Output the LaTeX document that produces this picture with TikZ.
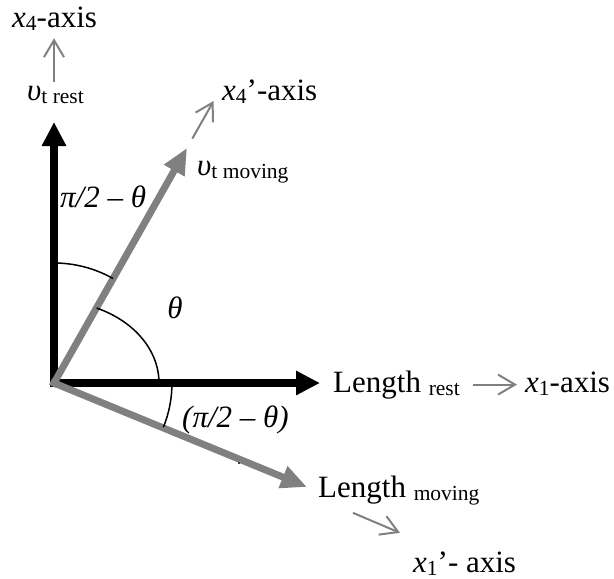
\documentclass[tikz,border=0pt]{standalone}
\usepackage{fontspec}
\setmainfont{Liberation Serif}
\usetikzlibrary{arrows.meta,calc}
\definecolor{axisgray}{RGB}{128,128,128}
\newcommand{\lowtext}[1]{\raisebox{-3pt}{\fontsize{21.5}{24}\selectfont #1}}
\tikzset{
 axislabel/.style={font=\fontsize{31}{36}\selectfont, inner sep=0pt, anchor=base west},
 restaxis/.style={line width=8pt, line cap=rect, -{Triangle[length=24pt,width=23pt]}},
 movingaxis/.style={axisgray, line width=7pt, line cap=rect, -{Triangle[length=26pt,width=22pt]}},
 anglemark/.style={line width=1.5pt},
 pointer/.style={axisgray, line width=2pt, -{Straight Barb[length=17pt,width=20pt]}}
}
\begin{document}
\begin{tikzpicture}[x=1pt,y=1pt]
% Frame of the 614 x 579 drawing, y measured downward as negative
\useasboundingbox (0,0) rectangle (614,-579);
% Common origin and the tips of the four thick arrows
\coordinate (O) at (54,-383);
\coordinate (vtip) at (54,-122);
\coordinate (htip) at (320,-383);
\coordinate (mtip) at (187,-148);
\coordinate (ltip) at (307,-487);
% Rest frame: black axes
\draw[restaxis] (O) -- (vtip);
\draw[restaxis] (O) -- (htip);
% Moving frame: grey axes, rotated
\draw[movingaxis] (O) -- (mtip);
\draw[movingaxis] (O) -- (ltip);
\fill (239,-463) circle (1pt);
% Angle marks
\draw[anglemark] (O) ++(90:120) arc[start angle=90, end angle=60.5, radius=120];
\draw[anglemark] (O) ++(105,0) arc[start angle=0, end angle=66, x radius=105, y radius=82];
\draw[anglemark] (O) ++(0:118) arc[start angle=0, end angle=-22, radius=118];
% Labels
\node[axislabel] (xfour) at (12,-27) {\textit{x}\lowtext{4}-axis};
\node[axislabel] (vrest) at (27,-100.5) {\textit{υ}\lowtext{t rest}};
\node[axislabel] (xfourp) at (222,-100) {\textit{x}\lowtext{4}’-axis};
\node[axislabel] (vmove) at (197,-175) {\textit{υ}\lowtext{t moving}};
\node[axislabel] (topangle) at (60,-207) {\textit{π/2 – θ}};
\node[axislabel, anchor=center] (theta) at (175,-308) {\textit{θ}};
\node[axislabel] (lowangle) at (182,-427) {\textit{(π/2 – θ)}};
\node[axislabel] (lrest) at (333,-392) {Length \lowtext{rest}};
\node[axislabel] (xone) at (525,-392) {\textit{x}\lowtext{1}-axis};
\node[axislabel] (lmove) at (318,-497) {Length \lowtext{moving}};
\node[axislabel] (xonep) at (413,-572) {\textit{x}\lowtext{1}’- axis};
% Thin grey pointers to the axis names
\draw[pointer, shorten <=4pt, shorten >=8pt] (vrest.north -| O) -- (xfour.south -| O);
\draw[pointer] ($(O)!1.04!(mtip)$) -- ($(O)!1.2!(mtip)$);
\draw[pointer, shorten <=13pt, shorten >=8pt] (lrest.east) -- (lrest.east -| xone.west);
\draw[pointer] ([shift={(35,-8)}]lmove.south west) -- ([shift={(82,-28)}]lmove.south west);
\end{tikzpicture}
\end{document}
